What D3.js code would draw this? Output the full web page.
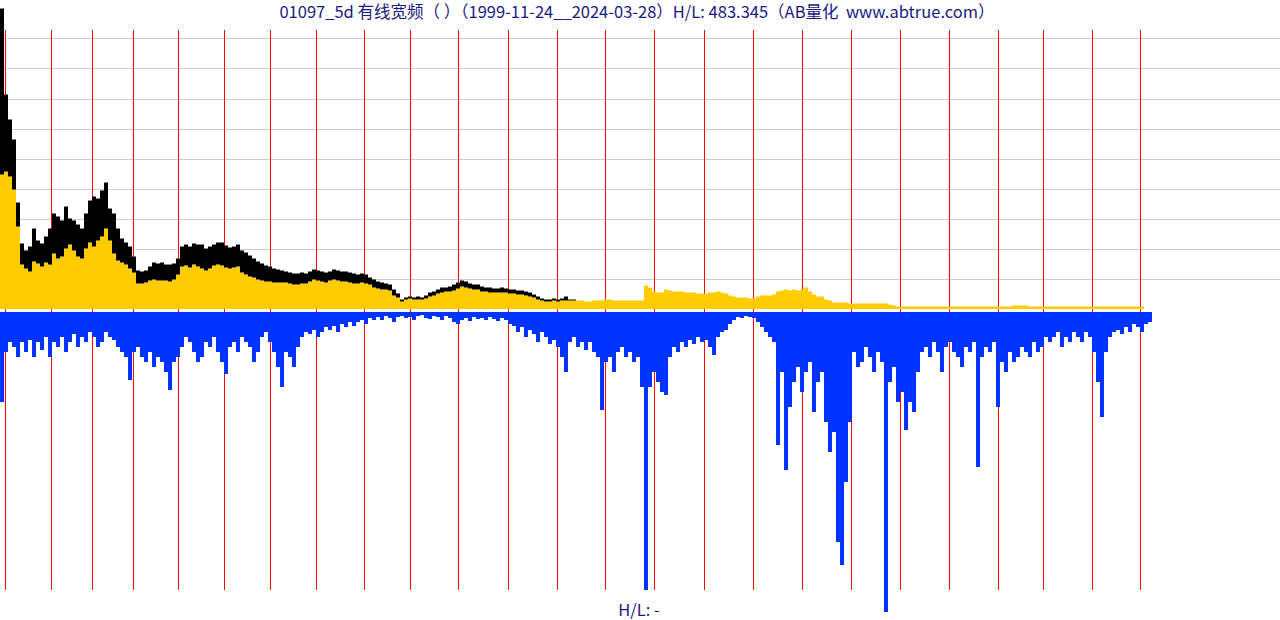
<!DOCTYPE html>
<html><head><meta charset="utf-8">
<script src="https://cdn.jsdelivr.net/npm/d3@7"></script>
<style>
html,body{margin:0;padding:0;background:#fff;overflow:hidden;}
svg{display:block;}
text{font-family:"Noto Sans CJK SC","DejaVu Sans",sans-serif;white-space:pre;}
</style>
</head><body>
<script>
// ---- data (one value per 4-week bin) ----
const titleText = "01097_5d 有线宽频（ ）（1999-11-24__2024-03-28）H/L: 483.345（AB量化  www.abtrue.com）";
const footerText = "H/L: -";
const weeksPerBin = 4;
const totalWeeks = 1152;
const yearStartWeeks = [5,51,92,133,178,224,270,316,364,410,458,508,557,605,654,704,753,802,851,900,949,998,1043,1092,1140];
const yearLabels = ["2000","2001","2002","2003","2004","2005","2006","2007","2008","2009","2010","2011","2012","2013","2014","2015","2016","2017","2018","2019","2020","2021","2022","2023","2024"];
const gridValues = [30,60,90,120,150,180,210,240,270];

// weekly high (black top)
const highVals = [300,214,189,169,106,65,58,62,80,68,65,72,80,95,92,88,102,90,88,84,80,95,108,112,110,118,126,100,95,80,70,66,62,52,38,37,38,42,46,45,46,44,44,45,50,62,64,62,65,64,
64,60,62,64,66,66,63,61,62,64,58,56,53,50,47,45,43,42,40,39,38,37,36,35,35,36,35,37,39,38,37,36,37,39,38,37,37,36,35,34,35,34,31,29,27,26,25,24,19,15,
9,11,12,11,12,11,13,16,17,19,21,21,22,24,26,28,27,25,24,24,22,21,21,20,20,21,20,19,19,18,18,17,16,14,12,10,9,9,10,9,10,12,9,9];
// weekly low (yellow top)
const lowVals = [134,137,132,119,82,44,40,37,47,45,42,46,44,55,50,52,60,64,58,52,50,60,66,62,68,72,80,68,55,48,46,44,40,36,25,25,26,28,29,28,28,28,27,29,34,42,43,41,44,42,
40,38,40,43,44,43,41,40,41,42,36,34,32,31,29,28,27,27,26,26,26,26,25,24,24,25,25,27,29,28,27,26,28,29,28,27,27,26,25,25,26,25,24,21,20,19,19,18,13,11,
7,9,10,9,9,9,10,12,13,15,16,17,17,18,20,22,21,20,19,19,17,17,16,16,16,16,16,15,15,14,14,13,12,11,9,8,7,7,8,7,8,8,8,8,
8,8,7,7,8,8,8,9,9,8,8,8,8,8,8,8,8,23,21,17,16,16,19,18,17,17,17,16,16,16,15,15,15,16,16,17,16,15,13,12,11,11,11,10,10,12,
13,13,13,14,17,18,19,18,19,18,19,21,17,14,12,12,9,8,6,6,6,6,5,5,5,5,5,5,5,5,5,5,4,3,2,2,2,2,2,2,2,2,2,2,
2,2,2,2,2,2,2,2,2,2,2,2,2,2,2,2,2,2,2,3,3,3,3,2,2,2,2,2,2,2,2,2,2,2,2,2,2,2,2,2,2,2,2,2,2,2,2,2,2,2,2,2];
// lower panel (blue, drawn downward)
const lowerVals = [90,40,30,35,45,30,40,28,45,30,38,25,45,30,35,25,40,30,22,35,25,30,20,25,35,30,20,25,28,35,40,45,68,40,35,45,50,40,55,45,50,60,78,50,45,35,25,30,40,50,
45,30,35,25,40,50,62,35,30,40,25,30,35,50,40,25,20,30,40,55,75,40,45,55,35,25,20,22,18,25,20,15,18,14,20,12,15,10,14,10,8,12,6,8,5,8,4,6,10,5,
4,6,5,8,4,3,6,7,4,5,8,4,6,10,12,8,6,9,5,7,6,8,5,7,9,6,8,12,14,20,15,25,18,22,30,20,25,32,28,35,45,60,30,25,35,30,38,30,40,45,
98,50,45,60,40,35,45,40,50,45,75,278,75,60,70,80,83,45,35,40,30,35,28,32,25,30,28,35,43,25,20,18,12,8,5,6,4,5,6,10,15,20,25,30,133,60,158,95,70,55,
80,60,50,100,70,60,110,140,120,230,253,170,110,40,55,50,35,45,60,40,50,300,70,55,90,80,118,90,100,60,40,35,45,30,40,60,35,30,40,45,55,35,40,30,155,45,35,40,30,95,
50,60,40,50,45,35,40,45,30,40,35,25,30,25,20,35,25,30,20,25,30,20,25,40,70,105,40,25,20,18,22,15,20,12,15,20,12,10];

// ---- drawing ----
const W = 1280, H = 620;
const svg = d3.select("body").append("svg").attr("width", W).attr("height", H);

const x = d3.scaleLinear().domain([0, totalWeeks]).range([0, 1152]);
const yTop = d3.scaleLinear().domain([0, 300]).range([308.5, 8.5]);
const yBot = d3.scaleLinear().domain([0, 300]).range([312, 612]);
const binX = i => x(i * weeksPerBin);
const binW = x(weeksPerBin) - x(0);

// horizontal grid
svg.append("g").selectAll("line").data(gridValues).join("line")
  .attr("x1", 0).attr("x2", W)
  .attr("y1", d => Math.round(yTop(d)) + 0.5).attr("y2", d => Math.round(yTop(d)) + 0.5)
  .attr("stroke", "#cccccc").attr("stroke-width", 1);

// year separators
svg.append("g").selectAll("line").data(yearStartWeeks).join("line")
  .attr("x1", d => Math.floor(x(d)) + 0.5).attr("x2", d => Math.floor(x(d)) + 0.5)
  .attr("y1", 30).attr("y2", 590)
  .attr("stroke", "#ff0000").attr("stroke-width", 1);

// yellow area (bars up to low)
svg.append("g").selectAll("rect").data(lowVals).join("rect")
  .attr("x", (d, i) => binX(i)).attr("width", binW)
  .attr("y", d => yTop(d)).attr("height", d => yTop(0) + 0.5 - yTop(d))
  .attr("fill", "#ffcc00");

// black range (low..high)
svg.append("g").selectAll("rect").data(highVals).join("rect")
  .attr("x", (d, i) => binX(i)).attr("width", binW)
  .attr("y", d => yTop(d)).attr("height", (d, i) => Math.max(0, yTop(lowVals[i]) - yTop(d)))
  .attr("fill", "#000000");

// blue lower bars
svg.append("g").selectAll("rect").data(lowerVals).join("rect")
  .attr("x", (d, i) => binX(i)).attr("width", binW)
  .attr("y", yBot(0)).attr("height", d => yBot(d) - yBot(0))
  .attr("fill", "#0033ff");

// title & footer
svg.append("text").attr("x", 637).attr("y", 18).attr("text-anchor", "middle")
  .attr("font-size", 16.5).attr("fill", "#1a1a80").text(titleText);
svg.append("text").attr("x", 639).attr("y", 616).attr("text-anchor", "middle")
  .attr("font-size", 16.5).attr("fill", "#1a1a80").text(footerText);
</script>
</body></html>
